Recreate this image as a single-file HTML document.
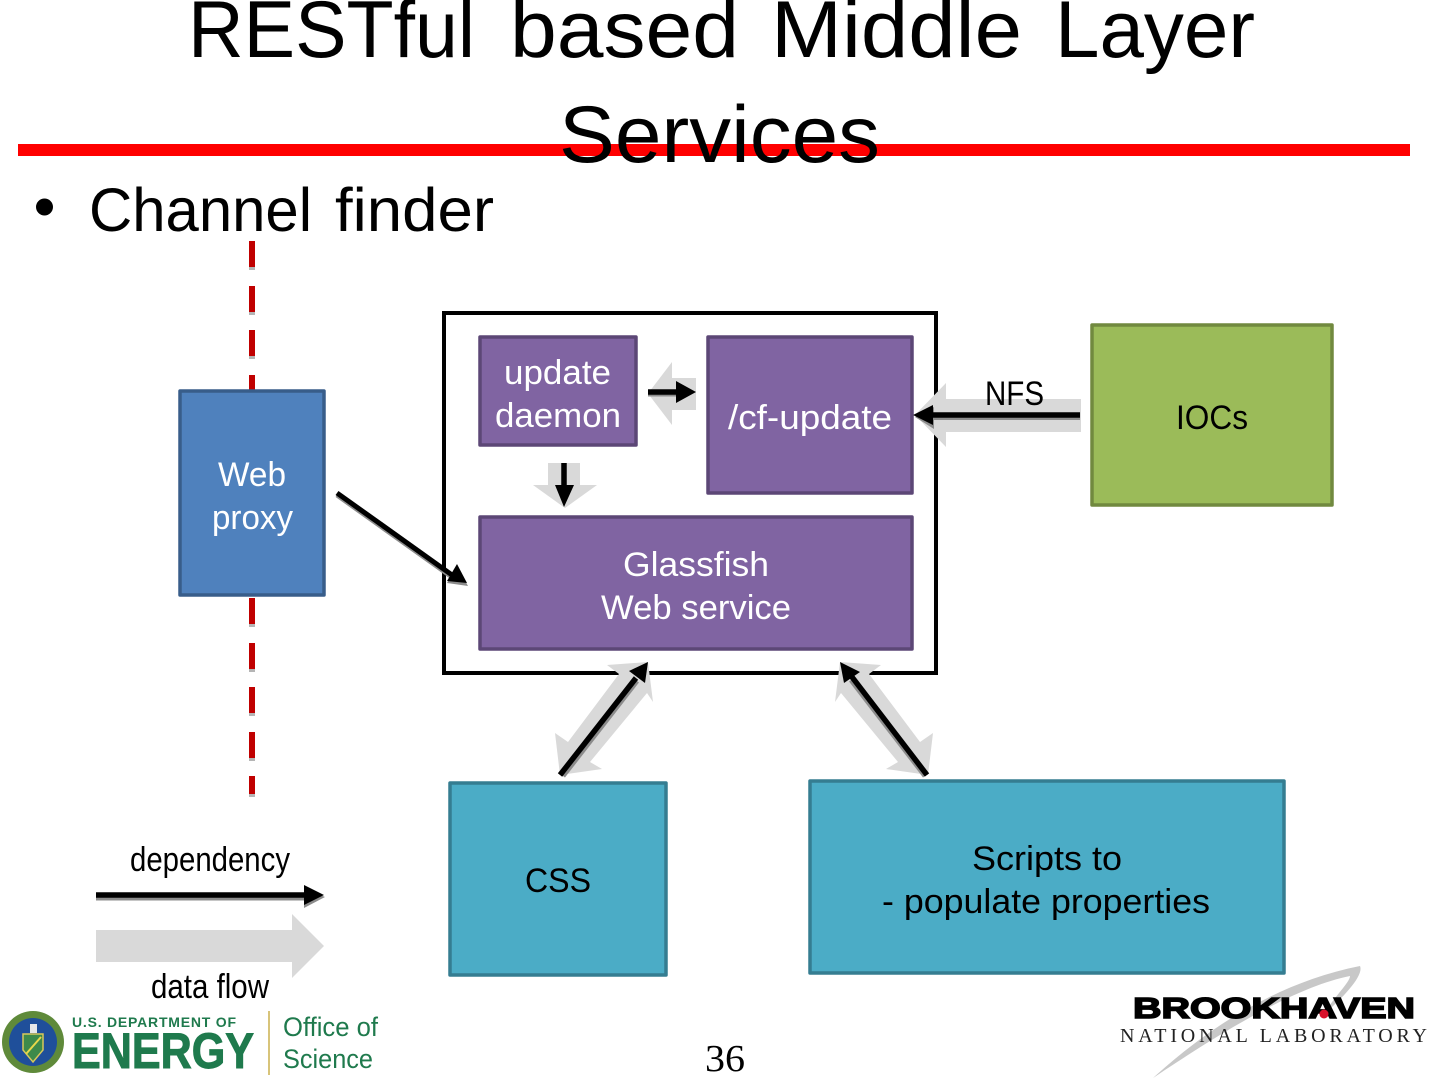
<!DOCTYPE html>
<html><head><meta charset="utf-8"><style>
html,body{margin:0;padding:0;background:#fff}
svg{display:block}
text{font-family:"Liberation Sans",sans-serif}
.b{font-size:34px;fill:#fff}
.k{font-size:34px;fill:#000}
</style></head><body>
<svg width="1440" height="1080" viewBox="0 0 1440 1080" xmlns="http://www.w3.org/2000/svg">
<rect x="18" y="144" width="1392" height="12" fill="#f00"/>
<g font-size="81">
<text x="188" y="57" textLength="287" lengthAdjust="spacingAndGlyphs">RESTful</text>
<text x="510" y="57" textLength="229" lengthAdjust="spacingAndGlyphs">based</text>
<text x="771" y="57" textLength="251" lengthAdjust="spacingAndGlyphs">Middle</text>
<text x="1055" y="57" textLength="200" lengthAdjust="spacingAndGlyphs">Layer</text>
<text x="559" y="162" textLength="321" lengthAdjust="spacingAndGlyphs">Services</text>
</g>
<circle cx="44.500" cy="207" r="8.500" fill="#000"/>
<g font-size="61">
<text x="89" y="231" textLength="223" lengthAdjust="spacingAndGlyphs">Channel</text>
<text x="335" y="231" textLength="159" lengthAdjust="spacingAndGlyphs">finder</text>
</g>

<!-- dashed line -->
<g fill="#c00000">
<rect x="249" y="241" width="6" height="26"/><rect x="249" y="286" width="6" height="26"/><rect x="249" y="330" width="6" height="26"/><rect x="249" y="375" width="6" height="16"/>
<rect x="249" y="598" width="6" height="26"/><rect x="249" y="643" width="6" height="26"/><rect x="249" y="687" width="6" height="26"/><rect x="249" y="732" width="6" height="26"/><rect x="249" y="776" width="6" height="18"/>
</g>
<g fill="#b5b5b5">
<rect x="249" y="267" width="6" height="3"/><rect x="249" y="312" width="6" height="3"/><rect x="249" y="356" width="6" height="3"/>
<rect x="249" y="624" width="6" height="3"/><rect x="249" y="669" width="6" height="3"/><rect x="249" y="713" width="6" height="3"/><rect x="249" y="758" width="6" height="3"/><rect x="249" y="794" width="6" height="3"/>
</g>

<!-- container -->
<rect x="444" y="313" width="492" height="360" fill="#fff" stroke="#000" stroke-width="4"/>

<!-- gray data flow arrows -->
<g fill="#d9d9d9">
<polygon points="648,393.500 672,362 672,378 696,378 696,410 672,410 672,425"/>
<polygon points="915,415 946,383 946,399 1081,399 1081,432 946,432 946,447"/>
<polygon points="565,508 533,485 548,485 548,463 580,463 580,485 597,485"/>
<polygon points="648,662 607,665 619,674 568,742 555,733 560,775 602,769 590,762 647,693 653,702"/>
<polygon points="840,662 881,665 869,674 920,742 933,733 928,775 886,769 898,762 841,693 835,702"/>
<polygon points="96,930 292,930 292,914 324,946 292,978 292,962 96,962"/>
</g>

<!-- boxes -->
<g stroke-width="3.500" stroke-linejoin="round">
<rect x="180" y="391" width="144" height="204" fill="#4f81bd" stroke="#385d8a"/>
<rect x="480" y="337" width="156" height="108" fill="#8064a2" stroke="#5c4776"/>
<rect x="708" y="337" width="204" height="156" fill="#8064a2" stroke="#5c4776"/>
<rect x="480" y="517" width="432" height="132" fill="#8064a2" stroke="#5c4776"/>
<rect x="1092" y="325" width="240" height="180" fill="#9bbb59" stroke="#71893f"/>
<rect x="450" y="783" width="216" height="192" fill="#4bacc6" stroke="#357d91"/>
<rect x="810" y="781" width="474" height="192" fill="#4bacc6" stroke="#357d91"/>
</g>

<!-- arrow shadows -->
<g stroke="#8c8c8c" stroke-width="5" fill="#8c8c8c">
<line x1="337" y1="495" x2="452" y2="577"/><polygon stroke="none" points="468,586 457,566 447,583"/>
<line x1="648" y1="394" x2="680" y2="394"/>
<polygon stroke="none" points="915,417 934,407 934,429"/>
<line x1="934" y1="417.500" x2="1080" y2="417.500"/>
<line x1="563" y1="776" x2="637" y2="681"/>
<line x1="925" y1="776" x2="851" y2="680"/>
<line x1="96" y1="898" x2="305" y2="898"/><polygon stroke="none" points="325,897 304,888 304,908"/>
</g>

<!-- black arrows -->
<g stroke="#000" stroke-width="5.500" fill="#000">
<line x1="337" y1="493" x2="452" y2="575" stroke-width="5"/><polygon stroke="none" points="467,583 457,564 447,581"/>
<line x1="648" y1="392" x2="680" y2="392"/><polygon stroke="none" points="696,392 676,381 676,403"/>
<line x1="930" y1="415" x2="1080" y2="415"/><polygon stroke="none" points="913,415 933,405 933,425"/>
<line x1="564" y1="463" x2="564" y2="488"/><polygon stroke="none" points="564,507 555,485 574,485"/>
<line x1="560" y1="775" x2="636" y2="678"/><polygon stroke="none" points="648,662 629,671 645,683"/>
<line x1="927" y1="775" x2="852" y2="677"/><polygon stroke="none" points="840,662 860,672 844,683"/>
<line x1="96" y1="895" x2="305" y2="895"/><polygon stroke="none" points="324,895 304,885 304,905"/>
</g>

<!-- labels -->
<text class="b" x="218" y="486" textLength="68" lengthAdjust="spacingAndGlyphs">Web</text>
<text class="b" x="212" y="529" textLength="81" lengthAdjust="spacingAndGlyphs">proxy</text>
<text class="b" x="504" y="384" textLength="107" lengthAdjust="spacingAndGlyphs">update</text>
<text class="b" x="495" y="427" textLength="126" lengthAdjust="spacingAndGlyphs">daemon</text>
<text class="b" x="728" y="429" textLength="164" lengthAdjust="spacingAndGlyphs">/cf-update</text>
<text class="b" x="623" y="576" textLength="146" lengthAdjust="spacingAndGlyphs">Glassfish</text>
<text class="b" x="601" y="619" textLength="190" lengthAdjust="spacingAndGlyphs">Web service</text>
<text class="k" x="1176" y="429" textLength="72" lengthAdjust="spacingAndGlyphs">IOCs</text>
<text class="k" x="525" y="892" textLength="66" lengthAdjust="spacingAndGlyphs">CSS</text>
<text class="k" x="972" y="870" textLength="150" lengthAdjust="spacingAndGlyphs">Scripts to</text>
<text class="k" x="882" y="913" textLength="328" lengthAdjust="spacingAndGlyphs">- populate properties</text>
<text class="k" x="985" y="405" textLength="59" lengthAdjust="spacingAndGlyphs">NFS</text>
<text class="k" x="130" y="871" textLength="160" lengthAdjust="spacingAndGlyphs">dependency</text>
<text class="k" x="151" y="998" textLength="118" lengthAdjust="spacingAndGlyphs">data flow</text>
<text x="705" y="1071" font-size="38" style="font-family:'Liberation Serif',serif" textLength="40" lengthAdjust="spacingAndGlyphs">36</text>

<!-- DOE logo -->
<circle cx="33" cy="1042" r="31" fill="#5f8a3a"/>
<circle cx="33" cy="1042" r="24" fill="#1f4f9a"/>
<polygon points="23,1034 43,1034 43,1050 33,1062 23,1050" fill="#3d8a4a" stroke="#d8c85a" stroke-width="1.500"/>
<rect x="30" y="1024" width="7" height="9" fill="#e8e8e8"/>
<line x1="26" y1="1054" x2="41" y2="1037" stroke="#e8d84a" stroke-width="2"/>
<g fill="#1f7a4d">
<text x="72" y="1027" font-size="14" font-weight="bold" textLength="164" lengthAdjust="spacing">U.S. DEPARTMENT OF</text>
<text x="72" y="1068" font-size="50" font-weight="bold" stroke="#1f7a4d" stroke-width="1" textLength="182" lengthAdjust="spacingAndGlyphs">ENERGY</text>
<text x="283" y="1036" font-size="27" textLength="95" lengthAdjust="spacingAndGlyphs">Office of</text>
<text x="283" y="1068" font-size="27" textLength="90" lengthAdjust="spacingAndGlyphs">Science</text>
</g>
<rect x="268" y="1011" width="2" height="64" fill="#d8c47a"/>

<!-- Brookhaven logo -->
<path d="M1153,1078 C1195,1040 1265,985 1360,966 C1364,975 1345,996 1323,1015 C1335,996 1350,982 1350,976 C1290,988 1210,1040 1153,1078 Z" fill="#c8c8c8"/>
<text x="1133" y="1018" font-size="29" font-weight="bold" stroke="#000" stroke-width="1.500" textLength="282" lengthAdjust="spacingAndGlyphs">BROOKHAVEN</text>
<circle cx="1324" cy="1014" r="4.500" fill="#d8112a"/>
<text x="1120" y="1042" font-size="20" style="font-family:'Liberation Serif',serif" fill="#222" textLength="307" lengthAdjust="spacing">NATIONAL  LABORATORY</text>
</svg>
</body></html>
